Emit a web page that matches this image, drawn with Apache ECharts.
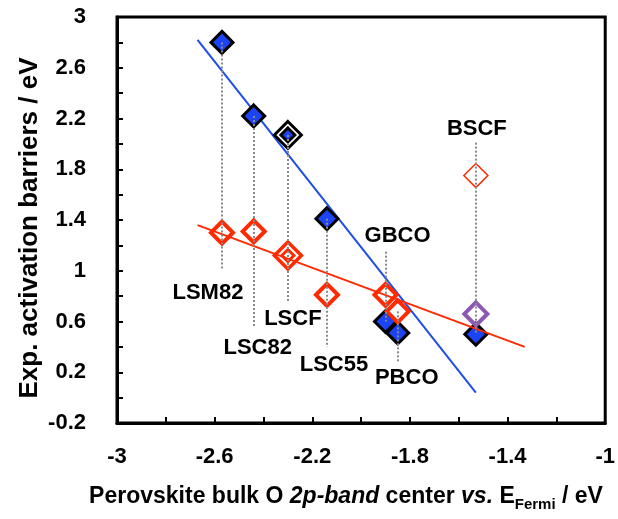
<!DOCTYPE html>
<html>
<head>
<meta charset="utf-8">
<script src="https://cdn.jsdelivr.net/npm/echarts@6/dist/echarts.min.js"></script>
<style>
  html, body { margin: 0; padding: 0; background: #fff; }
  #chart { width: 618px; height: 519px; }
</style>
</head>
<body>
<div id="chart"></div>
<script>
// Perovskite compositions and their bulk O 2p-band centre (eV vs. E_Fermi)
const compounds = ['LSM82', 'LSC82', 'LSCF', 'LSC55', 'GBCO', 'PBCO', 'BSCF'];
const bandCenter = [-2.57, -2.44, -2.30, -2.14, -1.90, -1.85, -1.53];
// Activation barriers (eV): filled blue set and open red set
const barrierFilled = [2.80, 2.22, 2.07, 1.41, 0.60, 0.51, 0.50];
const barrierOpen = [1.30, 1.31, 1.12, 0.81, 0.81, 0.68, 1.75];
// Extra BSCF value (purple open diamond)
const barrierBSCFAlt = 0.66;
// Where each dotted guide ends (next to its label)
const guideEnd = [1.01, 0.56, 0.75, 0.40, 1.15, 0.28, 2.01];
// Linear trend lines (end points)
const fitFilled = [[-2.67, 2.82], [-1.53, 0.04]];
const fitOpen = [[-2.67, 1.36], [-1.33, 0.40]];
// Axis ranges and tick step
const xRange = [-3, -1];
const yRange = [-0.2, 3];
const tickStep = 0.4;

// Label offsets (px) from each guide end
const labelOffset = [[-14, 23], [4, 21], [5, 16], [7, 18], [12, -16], [9, 16], [1, -14]];

const FONT = 'Arial, "Liberation Sans", sans-serif';
const BLUE = '#1a44f4';
const RED = '#ff2a00';
const PURPLE = '#8c58b4';
const DOUBLE = 2;   // LSCF is drawn as a doubled diamond
const THIN = 6;     // BSCF open value drawn thin

const filledPts = [], filledDouble = [];
bandCenter.forEach((x, i) => {
  (i === DOUBLE ? filledDouble : filledPts).push([x, barrierFilled[i]]);
});
const openPts = [], openDouble = [], openThin = [];
bandCenter.forEach((x, i) => {
  if (i === DOUBLE) openDouble.push([x, barrierOpen[i]]);
  else if (i === THIN) openThin.push([x, barrierOpen[i]]);
  else openPts.push([x, barrierOpen[i]]);
});

// Dotted guides from the marker(s) to the label
const guides = bandCenter.map((x, i) => {
  const vals = [barrierFilled[i], barrierOpen[i]];
  if (i === THIN) vals.push(barrierBSCFAlt);
  const lo = Math.min(...vals), hi = Math.max(...vals);
  const e = guideEnd[i];
  return { coords: e < lo ? [[x, hi], [x, e]] : [[x, e], [x, lo]] };
});
const labelPts = bandCenter.map((x, i) => ({
  value: [x, guideEnd[i]],
  name: compounds[i],
  label: { offset: labelOffset[i] }
}));

const chart = echarts.init(document.getElementById('chart'), null, { renderer: 'canvas' });

const axisCommon = {
  type: 'value',
  interval: tickStep,
  splitLine: { show: false },
  axisLine: { show: true, onZero: false, lineStyle: { color: '#000', width: 3 } },
  axisTick: { show: true, inside: true, length: 6, lineStyle: { color: '#000', width: 2 } },
  minorTick: { show: true, splitNumber: 2, length: 6, lineStyle: { color: '#000', width: 2 } },
  axisLabel: {
    color: '#000', fontFamily: FONT, fontWeight: 'bold', fontSize: 22,
    formatter: v => String(Number(v.toFixed(1)))
  }
};

chart.setOption({
  animation: false,
  backgroundColor: '#fff',
  grid: { left: 117, top: 17, width: 490, height: 406, show: true, borderColor: '#000', borderWidth: 3 },
  xAxis: Object.assign({}, axisCommon, {
    min: xRange[0], max: xRange[1],
    axisLabel: Object.assign({}, axisCommon.axisLabel, { margin: 23 })
  }),
  yAxis: Object.assign({}, axisCommon, {
    min: yRange[0], max: yRange[1],
    axisLabel: Object.assign({}, axisCommon.axisLabel, { margin: 31 })
  }),
  series: [
    {
      name: 'fitFilled', type: 'line', data: fitFilled, symbol: 'none', z: 2,
      lineStyle: { color: '#1f4ee6', width: 2 }
    },
    {
      name: 'filled', type: 'scatter', data: filledPts, symbol: 'diamond', symbolSize: 22, z: 3,
      itemStyle: { color: BLUE, borderColor: '#000', borderWidth: 3, opacity: 1 }
    },
    {
      name: 'filledOuter', type: 'scatter', data: filledDouble, symbol: 'diamond', symbolSize: 27, z: 3,
      itemStyle: { color: '#fff', borderColor: '#000', borderWidth: 3, opacity: 1 }
    },
    {
      name: 'filledInner', type: 'scatter', data: filledDouble, symbol: 'diamond', symbolSize: 14, z: 3,
      itemStyle: { color: BLUE, borderColor: '#000', borderWidth: 3, opacity: 1 }
    },
    {
      name: 'fitOpen', type: 'line', data: fitOpen, symbol: 'none', z: 4,
      lineStyle: { color: RED, width: 2 }
    },
    {
      name: 'open', type: 'scatter', data: openPts, symbol: 'diamond', symbolSize: 22, z: 5,
      itemStyle: { color: 'rgba(0,0,0,0)', borderColor: RED, borderWidth: 4, opacity: 1 }
    },
    {
      name: 'openOuter', type: 'scatter', data: openDouble, symbol: 'diamond', symbolSize: 27, z: 5,
      itemStyle: { color: 'rgba(0,0,0,0)', borderColor: RED, borderWidth: 3.5, opacity: 1 }
    },
    {
      name: 'openInner', type: 'scatter', data: openDouble, symbol: 'diamond', symbolSize: 12, z: 5,
      itemStyle: { color: 'rgba(0,0,0,0)', borderColor: RED, borderWidth: 3, opacity: 1 }
    },
    {
      name: 'openThin', type: 'scatter', data: openThin, symbol: 'diamond', symbolSize: 24, z: 5,
      itemStyle: { color: 'rgba(0,0,0,0)', borderColor: RED, borderWidth: 1.5, opacity: 1 }
    },
    {
      name: 'bscfAlt', type: 'scatter', data: [[bandCenter[THIN], barrierBSCFAlt]], symbol: 'diamond',
      symbolSize: 23, z: 5,
      itemStyle: { color: 'rgba(0,0,0,0)', borderColor: PURPLE, borderWidth: 4, opacity: 1 }
    },
    {
      name: 'guides', type: 'lines', coordinateSystem: 'cartesian2d', data: guides, z: 6,
      lineStyle: { color: '#8a8a8a', width: 2, type: [2, 2], opacity: 1 }
    },
    {
      name: 'labels', type: 'scatter', data: labelPts, symbolSize: 0, z: 7,
      itemStyle: { opacity: 1, color: '#000' },
      label: {
        show: true, position: 'inside', formatter: p => p.name,
        color: '#000', fontFamily: FONT, fontWeight: 'bold', fontSize: 22
      }
    }
  ],
  graphic: [
    {
      type: 'text', x: 30, y: 228, rotation: Math.PI / 2,
      style: {
        text: 'Exp. activation barriers / eV', align: 'center', verticalAlign: 'middle',
        font: 'bold 26px ' + FONT, fill: '#000'
      }
    },
    {
      type: 'text', x: 346, y: 497,
      style: {
        text: '{b|Perovskite bulk O }{i|2p-band}{b| center }{i|vs.}{b| E}{s|Fermi}{b| / eV}',
        align: 'center', verticalAlign: 'middle',
        rich: {
          b: { fontFamily: FONT, fontWeight: 'bold', fontSize: 23, fill: '#000', lineHeight: 30, verticalAlign: 'middle' },
          i: { fontFamily: FONT, fontWeight: 'bold', fontStyle: 'italic', fontSize: 23, fill: '#000', lineHeight: 30, verticalAlign: 'middle' },
          s: { fontFamily: FONT, fontWeight: 'bold', fontSize: 15, fill: '#000', lineHeight: 30, verticalAlign: 'bottom' }
        }
      }
    }
  ]
});
</script>
</body>
</html>
